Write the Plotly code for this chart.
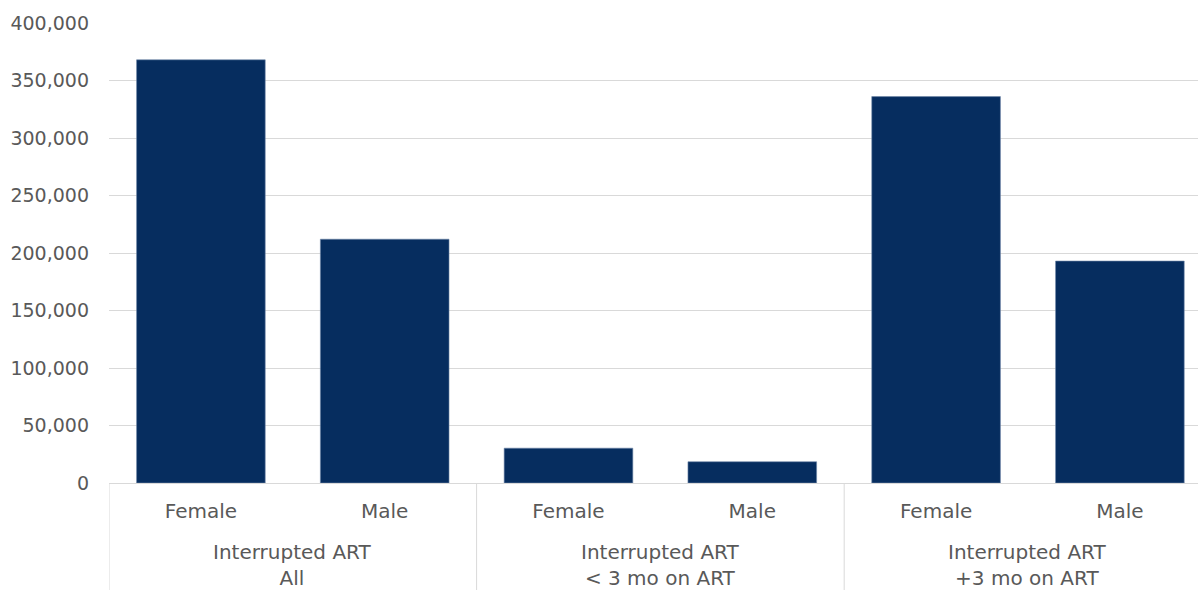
import plotly.graph_objects as go

group_labels = ["Interrupted ART<br>All", "Interrupted ART<br>< 3 mo on ART", "Interrupted ART<br>+3 mo on ART"]
sexes = ["Female", "Male"]
values = [368000, 212000, 30300, 18500, 336000, 193000]
y_ticks = [0, 50000, 100000, 150000, 200000, 250000, 300000, 350000, 400000]

keys = [f"{g}|{s}" for g in group_labels for s in sexes]
tick_text = [s for g in group_labels for s in sexes]

fig = go.Figure(go.Bar(
    x=keys, y=values,
    marker=dict(color="#062D5F", line=dict(color="#6f87a8", width=0.6)),
    width=0.7,
))

font = dict(family="DejaVu Sans", size=20, color="#595959")
yfont = dict(family="DejaVu Sans", size=19, color="#595959")
fig.update_layout(
    width=1198, height=590,
    margin=dict(l=109, r=0, t=23, b=107),
    plot_bgcolor="white", paper_bgcolor="white",
    showlegend=False, font=font,
)
# the reference is cropped on the right: the last group's right edge lies past the frame
fig.update_xaxes(
    type="category", range=[-0.5, len(keys) - 0.575],
    tickvals=keys, ticktext=tick_text,
    showgrid=False, showline=True, linecolor="#d9d9d9", linewidth=1,
    ticks="", tickfont=font, ticklabelstandoff=10, automargin=False,
)
fig.update_yaxes(
    range=[0, 400000], tickvals=y_ticks,
    tickformat=",d", showgrid=True, gridcolor="#d9d9d9", gridwidth=1,
    zeroline=False, showline=False, ticks="", ticklabelstandoff=19,
    tickfont=yfont, automargin=False,
)

n = len(sexes)
for i, g in enumerate(group_labels):
    fig.add_annotation(
        x=i * n + (n - 1) / 2, xref="x", y=0, yref="paper",
        yanchor="middle", yshift=-82, text=g, showarrow=False,
        font=font, align="center",
    )
for i in range(len(group_labels) + 1):
    fig.add_shape(
        type="line", xref="x", yref="paper",
        x0=i * n - 0.5, x1=i * n - 0.5, y0=0, y1=-107 / 460,
        line=dict(color="#d9d9d9", width=1),
    )
fig.write_html(
    "out.html",
    config={"displayModeBar": False},
    post_script="document.body.style.margin='0';document.body.style.overflow='hidden';",
)
